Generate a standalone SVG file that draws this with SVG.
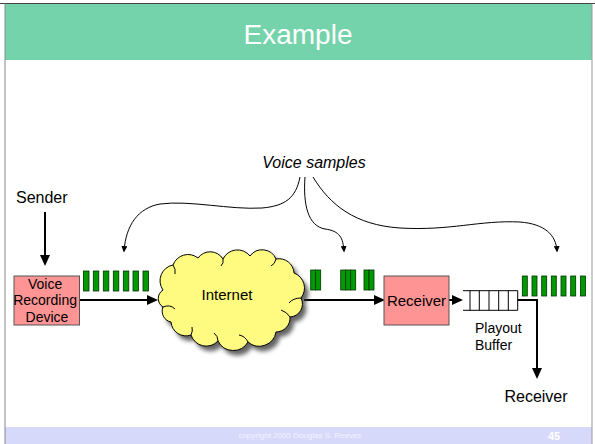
<svg xmlns="http://www.w3.org/2000/svg" width="595" height="444" viewBox="0 0 595 444">
  <defs>
    <style>
      .txt { font-family: "Liberation Sans", Arial, sans-serif; fill: #000; }
      .box { fill: #FF9494; stroke: #555; stroke-width: 1; }
      .pkt { fill: #009900; stroke: #003300; stroke-width: 0.8; }
      .wire { fill: none; stroke: #000; stroke-width: 2; }
      .thin { fill: none; stroke: #000; stroke-width: 1; }
      .curl { fill: none; stroke: #000; stroke-width: 1; }
    </style>
    <marker id="head" markerUnits="userSpaceOnUse" markerWidth="12" markerHeight="10" refX="9" refY="5" orient="auto">
      <path d="M0,0 L11,5 L0,10 Z" fill="#000"/>
    </marker>
    <marker id="tip" markerUnits="userSpaceOnUse" markerWidth="7" markerHeight="6" refX="5" refY="3" orient="auto">
      <path d="M0,0 L6.5,3 L0,6 Z" fill="#000"/>
    </marker>
    <filter id="soft" x="-20%" y="-20%" width="140%" height="140%">
      <feGaussianBlur stdDeviation="2.2"/>
    </filter>
    <!-- cloud outline: a ring of overlapping round lobes -->
    <path id="cloudShape" d="M163,290 A16,16 0 0 1 173,265 A16,16 0 0 1 198,258 A15,15 0 0 1 223,259 A16,16 0 0 1 250,256 A15,15 0 0 1 276,259 A15,15 0 0 1 294,273 A16,16 0 0 1 301,298 A13,13 0 0 1 290,317 A14,14 0 0 1 276,332 A17,17 0 0 1 248,342 A17,17 0 0 1 218,341 A16,16 0 0 1 191,335 A15,15 0 0 1 171,322 A11,11 0 0 1 163,307 A10,10 0 0 1 163,290 Z"/>
  </defs>

  <!-- slide frame -->
  <rect x="0" y="0" width="595" height="444" fill="#fff"/>
  <rect x="5" y="4" width="587" height="56" fill="#74D3AA"/>
  <rect x="5" y="427" width="587" height="17" fill="#D7D9FB"/>
  <line x1="0" y1="3.5" x2="595" y2="3.5" stroke="#444" stroke-width="1"/>
  <line x1="5" y1="3.5" x2="5" y2="444" stroke="#888" stroke-width="1"/>
  <line x1="592" y1="3.5" x2="592" y2="444" stroke="#999" stroke-width="1"/>

  <text class="txt" x="298" y="44" font-size="28" text-anchor="middle" style="fill:#fff">Example</text>
  <text class="txt" x="300" y="438" font-size="8" text-anchor="middle" style="fill:#F2F2FF">copyright 2005 Douglas S. Reeves</text>
  <text class="txt" x="554" y="440" font-size="11" font-weight="bold" text-anchor="middle" style="fill:#fff">45</text>

  <!-- connectors -->
  <g id="connectors">
    <line class="wire" x1="45" y1="212" x2="45" y2="264" marker-end="url(#head)"/>
    <line class="wire" x1="79.5" y1="300" x2="156" y2="300" marker-end="url(#head)"/>
    <line class="wire" x1="304" y1="300" x2="383" y2="300" marker-end="url(#head)"/>
    <line class="wire" x1="449" y1="300" x2="461" y2="300" marker-end="url(#head)"/>
    <path class="wire" d="M517.7,300 H537 V377" marker-end="url(#head)"/>
    <path class="thin" d="M300,177 C296,198 285,206 262,208 C230,210 190,200 160,204 C138,208 126,225 124,251" marker-end="url(#tip)"/>
    <path class="thin" d="M305,177 C303,205 308,226 325,229 C340,231 343,238 344,251" marker-end="url(#tip)"/>
    <path class="thin" d="M313,177 C330,205 355,225 400,228 C450,231 480,220 520,222 C545,224 556,235 557,251" marker-end="url(#tip)"/>
  </g>

  <g id="sender">
    <text class="txt" x="16" y="203" font-size="16">Sender</text>
  </g>

  <g id="voice-recording-device">
    <rect class="box" x="14" y="276" width="65.5" height="49"/>
    <text class="txt" font-size="14" text-anchor="middle">
      <tspan x="47" y="288.5">Voice</tspan>
      <tspan x="47" y="305">Recording</tspan>
      <tspan x="47" y="321.5">Device</tspan>
    </text>
  </g>

  <g id="voice-samples">
    <text class="txt" x="314" y="167.5" font-size="16" font-style="italic" text-anchor="middle">Voice samples</text>
  </g>

  <g id="packets-sent">
    <rect class="pkt" x="83.5" y="271" width="5.5" height="20"/>
    <rect class="pkt" x="93.3" y="271" width="5.5" height="20"/>
    <rect class="pkt" x="103.3" y="271" width="5.5" height="20"/>
    <rect class="pkt" x="113.3" y="271" width="5.5" height="20"/>
    <rect class="pkt" x="123.3" y="271" width="5.5" height="20"/>
    <rect class="pkt" x="133" y="271" width="5.5" height="20"/>
    <rect class="pkt" x="143" y="271" width="5.5" height="20"/>
  </g>

  <g id="internet">
    <use href="#cloudShape" transform="translate(4,5)" fill="#333" opacity="0.75" filter="url(#soft)"/>
    <use href="#cloudShape" fill="#FFFB80" stroke="#000" stroke-width="1"/>
    <path class="curl" d="M163,307 q7,-3 12,2"/>
    <path class="curl" d="M173,265 q3,4 2,9"/>
    <path class="curl" d="M223,259 q1,4 -2,7"/>
    <path class="curl" d="M276,259 q-1,5 -5,7"/>
    <path class="curl" d="M301,298 q-8,0 -12,5"/>
    <path class="curl" d="M290,317 q-3,-5 -9,-7"/>
    <path class="curl" d="M248,342 q-3,-6 -9,-7"/>
    <path class="curl" d="M218,341 q0,-5 -4,-8"/>
    <path class="curl" d="M191,335 q2,-4 1,-8"/>
    <text class="txt" x="227" y="300" font-size="15" text-anchor="middle">Internet</text>
  </g>

  <g id="packets-arriving">
    <rect class="pkt" x="310.7" y="270" width="5" height="20"/>
    <rect class="pkt" x="315.7" y="270" width="5" height="20"/>
    <rect class="pkt" x="340.7" y="270" width="5" height="20"/>
    <rect class="pkt" x="345.7" y="270" width="5" height="20"/>
    <rect class="pkt" x="350.7" y="270" width="5" height="20"/>
    <rect class="pkt" x="364" y="270" width="5" height="20"/>
    <rect class="pkt" x="369" y="270" width="5" height="20"/>
  </g>

  <g id="receiver">
    <rect class="box" x="384" y="276" width="65" height="49"/>
    <text class="txt" x="416.5" y="305.5" font-size="15" text-anchor="middle">Receiver</text>
  </g>

  <g id="playout-buffer">
    <path class="thin" d="M463,290.7 H517.7 M463,310.3 H517.7 M470,290.7 V310.3 M479.3,290.7 V310.3 M489,290.7 V310.3 M498.7,290.7 V310.3 M508.3,290.7 V310.3 M517.7,290.7 V310.3"/>
    <text class="txt" font-size="14">
      <tspan x="475" y="333">Playout</tspan>
      <tspan x="475" y="350">Buffer</tspan>
    </text>
  </g>

  <g id="packets-played">
    <rect class="pkt" x="522.3" y="276" width="5" height="20"/>
    <rect class="pkt" x="532" y="276" width="5" height="20"/>
    <rect class="pkt" x="541.7" y="276" width="5" height="20"/>
    <rect class="pkt" x="551.3" y="276" width="5" height="20"/>
    <rect class="pkt" x="561" y="276" width="5" height="20"/>
    <rect class="pkt" x="570.7" y="276" width="5" height="20"/>
    <rect class="pkt" x="580.5" y="276" width="5" height="20"/>
  </g>

  <g id="listener">
    <text class="txt" x="536" y="402" font-size="16" text-anchor="middle">Receiver</text>
  </g>
</svg>
